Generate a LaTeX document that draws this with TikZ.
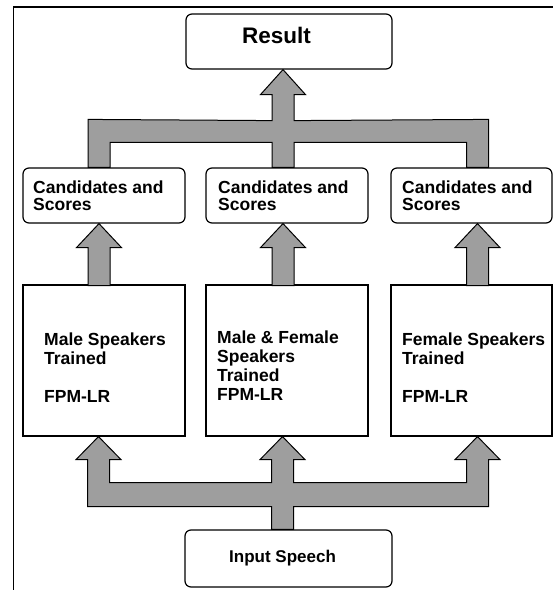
\documentclass[tikz,border=0pt]{standalone}
\usepackage{fontspec}
\setmainfont{Liberation Sans}
\usetikzlibrary{calc}
\definecolor{halftone}{gray}{0.62}
\newcommand{\candfont}{\bfseries\fontsize{17.5}{16}\selectfont}
\newcommand{\modelfont}{\bfseries\fontsize{17.5}{19}\selectfont}
\begin{document}
\begin{tikzpicture}[x=1pt,y=-1pt,
  box/.style={draw, line width=1.2pt, fill=white, inner sep=0pt, minimum width=162pt},
  rbox/.style={box, rounded corners=6pt},
  flow/.style={draw, line width=1pt, fill=halftone, line join=miter},
  lbl/.style={anchor=base west, inner sep=0pt}]
\useasboundingbox (0,0) rectangle (553,590);
\clip (0,0) rectangle (553,590);
% outer frame (cut by the page on the right and at the bottom)
\draw[line width=1.3pt] (13.5,7) rectangle (600,620);

% boxes
\node[rbox, minimum width=206pt, minimum height=55pt] (result) at (289,41.5) {};
\node[rbox, minimum height=55pt] (cand1) at (104,195.5) {};
\node[rbox, minimum height=55pt] (cand2) at (287,195.5) {};
\node[rbox, minimum height=55pt, minimum width=161pt] (cand3) at (471.5,195.5) {};
\node[box, minimum height=151pt] (model1) at (104,360.5) {};
\node[box, minimum height=151pt] (model2) at (287,360.5) {};
\node[box, minimum height=151pt, minimum width=161pt] (model3) at (471.5,360.5) {};
\node[rbox, minimum width=207pt, minimum height=57pt] (input) at (288.5,558.5) {};

% arrow tips / leg centres
\coordinate (tr) at ([xshift=-6pt]result.south);
\coordinate (l1) at ([xshift=-5pt]cand1.north);
\coordinate (l2) at ([xshift=-4pt]cand2.north);
\coordinate (l3) at ([xshift=6pt]cand3.north);
\coordinate (m1) at ([xshift=-5pt]cand1.south);
\coordinate (m2) at ([xshift=-4pt]cand2.south);
\coordinate (m3) at ([xshift=6pt]cand3.south);
\coordinate (t1) at ([xshift=-5.5pt]model1.south);
\coordinate (t2) at ([xshift=-4.5pt]model2.south);
\coordinate (t3) at ([xshift=6pt]model3.south);
\coordinate (b2) at (t2 |- input.north);

% top manifold: three candidate boxes -> Result
\draw[flow] ($(l1)+(-11,0)$) -- ++(0,-48) -- ($(tr)+(-11,51)$) -- ++(0,-26) -- ++(-11.5,0)
  -- (tr) -- ++(22.5,25) -- ++(-11.5,0) -- ++(0,26) -- ($(l3)+(11,-48)$) -- ++(0,48)
  -- ++(-22,0) -- ++(0,-25) -- ($(l2)+(11,-25)$) -- ++(0,25) -- ++(-22,0) -- ++(0,-25)
  -- ($(l1)+(11,-25)$) -- ++(0,25) -- cycle;

% middle arrows: models -> candidates
\foreach \m in {m1,m2,m3}{
  \draw[flow] (\m) -- ++(22.5,24) -- ++(-11.5,0) -- ++(0,38) -- ++(-22,0) -- ++(0,-38)
    -- ++(-11.5,0) -- cycle;
}

% bottom manifold: Input Speech -> three models
\draw[flow] (t1) -- ++(22.5,23) -- ++(-11.5,0) |- ($(t2)+(-11,46)$) -- ++(0,-23) -- ++(-11.5,0)
  -- (t2) -- ++(22.5,23) -- ++(-11.5,0) |- ($(t3)+(-11,46)$) -- ++(0,-23) -- ++(-11.5,0)
  -- (t3) -- ++(22.5,23) -- ++(-11.5,0) -- ++(0,47) -- ($(t2)+(11,70)$)
  -- ($(b2)+(11,0)$) -- ($(b2)+(-11,0)$) -- ($(t2)+(-11,70)$)
  -- ($(t1)+(-11,70)$) -- ++(0,-47) -- ++(-11.5,0) -- cycle;

% texts
\node[lbl, font=\bfseries\fontsize{22.5}{27}\selectfont] (resulttext) at (242,43) {Result};
\node[lbl, font=\candfont] (cand1text) at (33,193) {\begin{tabular}[t]{@{}l@{}}Candidates and\\Scores\end{tabular}};
\node[lbl, font=\candfont] (cand2text) at (218,193) {\begin{tabular}[t]{@{}l@{}}Candidates and\\Scores\end{tabular}};
\node[lbl, font=\candfont] (cand3text) at (402,193) {\begin{tabular}[t]{@{}l@{}}Candidates and\\Scores\end{tabular}};
\node[lbl, font=\modelfont] (model1text) at (44,345) {\begin{tabular}[t]{@{}l@{}}Male Speakers\\Trained\\ \\FPM-LR\end{tabular}};
\node[lbl, font=\modelfont] (model2text) at (217,343) {\begin{tabular}[t]{@{}l@{}}Male \& Female\\Speakers\\Trained\\FPM-LR\end{tabular}};
\node[lbl, font=\modelfont] (model3text) at (402,345) {\begin{tabular}[t]{@{}l@{}}Female Speakers\\Trained\\ \\FPM-LR\end{tabular}};
\node[lbl, font=\bfseries\fontsize{17}{20}\selectfont] (inputtext) at (229,562) {Input Speech};
\end{tikzpicture}
\end{document}
